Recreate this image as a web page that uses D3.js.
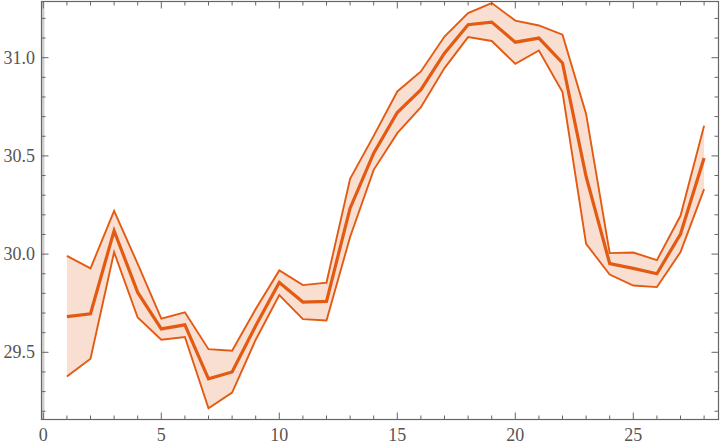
<!DOCTYPE html>
<html><head><meta charset="utf-8">
<script src="https://cdn.jsdelivr.net/npm/d3@7"></script>
<style>body{margin:0;background:#fff}svg{display:block}
.lbl{font-family:"Liberation Serif","Times New Roman",serif;font-size:18px;fill:#555}</style>
</head><body>
<script>
const xs = [1,2,3,4,5,6,7,8,9,10,11,12,13,14,15,16,17,18,19,20,21,22,23,24,25,26,27,28];
const meanVals = [29.682,29.696,30.119,29.805,29.619,29.640,29.365,29.400,29.635,29.855,29.756,29.759,30.234,30.514,30.721,30.837,31.023,31.168,31.181,31.079,31.100,30.973,30.395,29.952,29.927,29.900,30.102,30.489];
const upperVals = [29.991,29.927,30.220,29.950,29.671,29.704,29.516,29.508,29.720,29.917,29.842,29.855,30.383,30.602,30.828,30.930,31.108,31.227,31.278,31.189,31.164,31.117,30.714,30.005,30.008,29.969,30.195,30.653];
const lowerVals = [29.377,29.467,30.010,29.677,29.564,29.578,29.215,29.295,29.564,29.791,29.669,29.662,30.087,30.429,30.616,30.748,30.947,31.105,31.085,30.969,31.037,30.825,30.052,29.896,29.840,29.832,30.010,30.331];
const xTicks = [0,5,10,15,20,25];
const yTicks = [29.5,30.0,30.5,31.0];

const W=722,H=448;
const L=41.5,R=718.5,T=1.5,B=419.5;
const x = d3.scaleLinear().domain([0,28]).range([43.3,704.1]);
const y = d3.scaleLinear().domain([29.5,31.0]).range([352.3,57.7]);
const svg = d3.select("body").append("svg").attr("width",W).attr("height",H);
const data = xs.map((v,i)=>({x:v,m:meanVals[i],u:upperVals[i],l:lowerVals[i]}));

svg.append("line").attr("x1",x(0)).attr("x2",x(0)).attr("y1",T).attr("y2",B)
  .attr("stroke","#cccccc").attr("stroke-width",2.2);

const col="#E35B12";
svg.append("path").datum(data)
  .attr("d",d3.area().x(d=>x(d.x)).y0(d=>y(d.l)).y1(d=>y(d.u)))
  .attr("fill","#F9DFD2").attr("stroke","none");
[["u",1.9],["l",1.9],["m",3.2]].forEach(([k,w])=>{
  svg.append("path").datum(data)
    .attr("d",d3.line().x(d=>x(d.x)).y(d=>y(d[k])))
    .attr("fill","none").attr("stroke",col).attr("stroke-width",w).attr("stroke-linejoin","miter");
});

const fc="#666666";
svg.append("rect").attr("x",L).attr("y",T).attr("width",R-L).attr("height",B-T)
  .attr("fill","none").attr("stroke",fc).attr("stroke-width",1.2);

const g=svg.append("g").attr("stroke",fc).attr("stroke-width",1);
const xMinor=d3.range(0,29,1), yMinor=d3.range(29.2,31.29,0.1);
xMinor.forEach(v=>{
  const len = xTicks.includes(v)?7:4;
  g.append("line").attr("x1",x(v)).attr("x2",x(v)).attr("y1",B).attr("y2",B-len);
  g.append("line").attr("x1",x(v)).attr("x2",x(v)).attr("y1",T).attr("y2",T+len);
});
yMinor.forEach(v=>{
  const major = yTicks.some(t=>Math.abs(t-v)<1e-6);
  const len = major?7:4;
  g.append("line").attr("x1",L).attr("x2",L+len).attr("y1",y(v)).attr("y2",y(v));
  g.append("line").attr("x1",R).attr("x2",R-len).attr("y1",y(v)).attr("y2",y(v));
});

svg.append("g").selectAll("text").data(xTicks).join("text").attr("class","lbl")
  .attr("x",d=>x(d)).attr("y",441).attr("text-anchor","middle")
  .text(d=>d);
svg.append("g").selectAll("text").data(yTicks).join("text").attr("class","lbl")
  .attr("x",35).attr("y",d=>y(d)+5.8).attr("text-anchor","end")
  .text(d=>d.toFixed(1));
</script>
</body></html>
